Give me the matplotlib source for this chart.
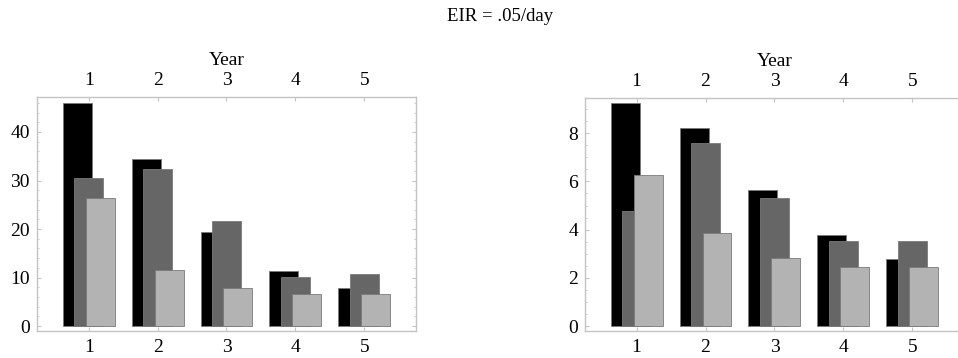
import numpy as np
import matplotlib
matplotlib.use('Agg')
import matplotlib.pyplot as plt
from matplotlib.ticker import MultipleLocator

plt.rcParams['font.family'] = ['Liberation Serif', 'DejaVu Serif']

years = [1, 2, 3, 4, 5]
year_labels = ['1', '2', '3', '4', '5']

# left panel, three series per year
left_black = [45.9, 34.4, 19.3, 11.3, 7.8]
left_dark = [30.6, 32.3, 21.6, 10.1, 10.7]
left_light = [26.3, 11.5, 7.8, 6.7, 6.7]

# right panel
right_black = [9.24, 8.2, 5.64, 3.76, 2.78]
right_dark = [4.76, 7.58, 5.3, 3.54, 3.54]
right_light = [6.27, 3.85, 2.83, 2.44, 2.44]

colors = ['#000000', '#666666', '#b3b3b3']
offsets = [-1 / 6, 0, 1 / 6]
frame_col = '#c4c4c4'

fig = plt.figure(figsize=(9.58, 3.58), dpi=100)
fig.text(0.522, 0.954, 'EIR = .05/day', ha='center', va='center', fontsize=13.5)


def draw_panel(ax, series, ylim, major, minor):
    x = np.array(years)
    for vals, col, off in zip(series, colors, offsets):
        ax.bar(x + off, vals, width=0.42, color=col, edgecolor='#7a7a7a', linewidth=0.6)
    ax.set_xlim(0.25, 5.75)
    ax.set_ylim(*ylim)
    ax.set_xticks(years)
    ax.set_xticklabels(year_labels)
    ax.yaxis.set_major_locator(MultipleLocator(major))
    ax.yaxis.set_minor_locator(MultipleLocator(minor))
    for s in ax.spines.values():
        s.set_color(frame_col)
        s.set_linewidth(1.0)
    ax.tick_params(axis='both', which='both', direction='in', colors=frame_col,
                   labelcolor='black', labelsize=14)
    ax.tick_params(axis='x', top=True, labeltop=False, length=3, pad=6)
    ax.tick_params(axis='y', which='major', left=True, right=True, length=3, pad=5)
    ax.tick_params(axis='y', which='minor', left=True, right=True, length=1.5)
    # top axis with its own labels and the "Year" title
    ax2 = ax.secondary_xaxis('top')
    ax2.set_xticks(years)
    ax2.set_xticklabels(year_labels)
    ax2.tick_params(length=0, pad=5.5, labelsize=14)
    ax2.spines['top'].set_visible(False)
    ax2.set_xlabel('Year', fontsize=14, labelpad=5)


axl = fig.add_axes([0.0386, 0.0754, 0.3956, 0.6536])
draw_panel(axl, [left_black, left_dark, left_light], (-1.0, 47.2), 10, 2)

axr = fig.add_axes([0.6106, 0.0763, 0.3956, 0.65])
draw_panel(axr, [right_black, right_dark, right_light], (-0.19, 9.46), 2, 0.5)

fig.savefig('out.png', dpi=100)
